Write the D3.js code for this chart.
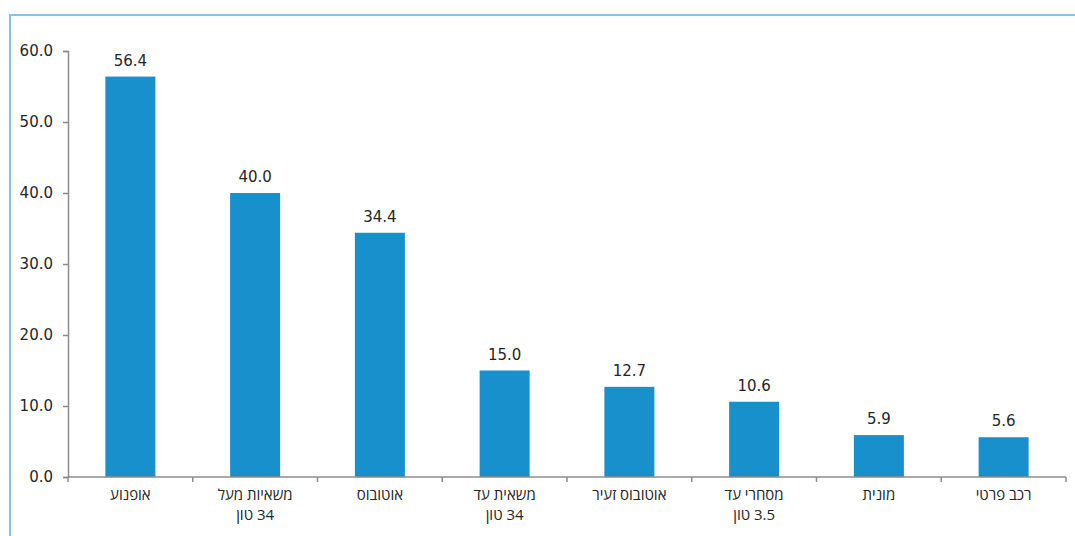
<!DOCTYPE html>
<html><head><meta charset="utf-8">
<script src="https://cdn.jsdelivr.net/npm/d3@7"></script>
<style>
html,body{margin:0;padding:0;background:#fff;}
svg{display:block;font-family:"Open Sans","Liberation Sans",sans-serif;}
</style></head>
<body>
<svg id="c" width="1075" height="536"></svg>
<script>
const categories = [["אופנוע"],["משאיות מעל","34 טון"],["אוטובוס"],["משאית עד","34 טון"],["אוטובוס זעיר"],["מסחרי עד","3.5 טון"],["מונית"],["רכב פרטי"]];
const values = [56.4, 40.0, 34.4, 15.0, 12.7, 10.6, 5.9, 5.6];
const yTicks = [0,10,20,30,40,50,60];

const numFont = "DejaVu Sans, Open Sans, sans-serif";
const svg = d3.select("#c");
// frame
svg.append("rect").attr("x",10).attr("y",15).attr("width",1080).attr("height",540)
  .attr("fill","none").attr("stroke","#86c3e2").attr("stroke-width",2);

const band = d3.scaleBand().domain(d3.range(categories.length)).range([68,1066]);
const y = d3.scaleLinear().domain([0,60]).range([477,51]);

// bars
svg.selectAll("rect.bar").data(values).enter().append("rect").attr("class","bar")
  .attr("x",(d,i)=>band(i)+band.bandwidth()/2-25).attr("width",50)
  .attr("y",d=>y(d)).attr("height",d=>y(0)-y(d)).attr("fill","#1790cb");

// value labels
svg.selectAll("text.val").data(values).enter().append("text").attr("class","val")
  .attr("x",(d,i)=>band(i)+band.bandwidth()/2).attr("y",d=>y(d)-11)
  .attr("text-anchor","middle").attr("font-size",15).attr("fill","#262626")
  .attr("font-family",numFont)
  .text(d=>d3.format(".1f")(d));

// y axis
const ya = svg.append("g").attr("transform","translate(68,0)")
  .call(d3.axisLeft(y).tickValues(yTicks).tickFormat(d3.format(".1f")).tickSize(5).tickPadding(10));
ya.select(".domain").attr("stroke","#8c8c8c").attr("stroke-width",1.5);
ya.selectAll(".tick line").attr("stroke","#8c8c8c").attr("stroke-width",1.5);
ya.selectAll(".tick text").attr("font-size",15).attr("fill","#262626").attr("font-family",numFont);

// x axis
svg.append("line").attr("x1",68).attr("x2",1066).attr("y1",y(0)).attr("y2",y(0))
  .attr("stroke","#8c8c8c").attr("stroke-width",1.5);
svg.selectAll("line.xt").data(d3.range(categories.length+1)).enter().append("line").attr("class","xt")
  .attr("x1",i=>i<categories.length?band(i):band.range()[1]).attr("x2",i=>i<categories.length?band(i):band.range()[1])
  .attr("y1",y(0)).attr("y2",y(0)+5).attr("stroke","#8c8c8c").attr("stroke-width",1.5);

// category labels
const cl = svg.selectAll("text.cat").data(categories).enter().append("text").attr("class","cat")
  .attr("text-anchor","middle").attr("font-size",15).attr("fill","#262626").attr("direction","rtl");
cl.each(function(lines,i){
  const t = d3.select(this);
  lines.forEach((ln,j)=>{
    t.append("tspan").attr("x",band(i)+band.bandwidth()/2).attr("y",500+j*20).text(ln);
  });
});
</script>
</body></html>
